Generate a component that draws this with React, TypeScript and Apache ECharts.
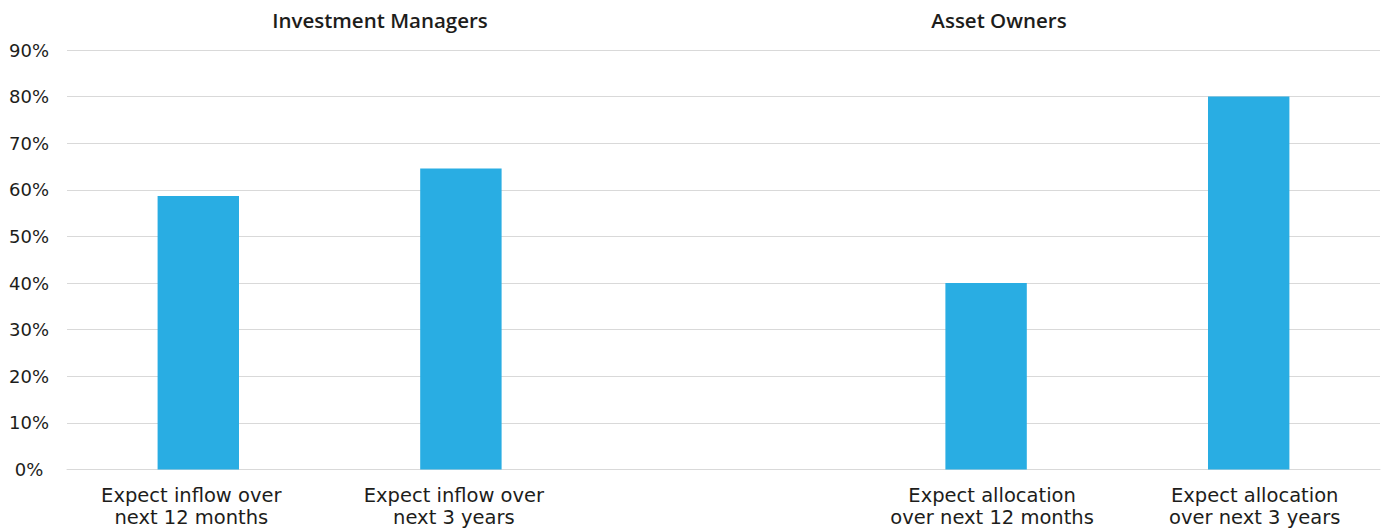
import React, { useEffect, useRef } from "react";
import * as echarts from "echarts";

const categories = [
  "Expect inflow over\nnext 12 months",
  "Expect inflow over\nnext 3 years",
  "",
  "Expect allocation\nover next 12 months",
  "Expect allocation\nover next 3 years",
];
const values: (number | null)[] = [58.7, 64.6, null, 40, 80];
const yTicks = { min: 0, max: 90, interval: 10 };
const groupTitles = ["Investment Managers", "Asset Owners"];

const TEXT = "#1d1d1b";
const GRID = "#d9d9d9";
const BAR = "#29ade3";

// small horizontal nudges of the category labels, as in the reference
const labelPads = [
  [0, 14, 0, 0],
  [0, 14, 0, 0],
  [0, 0, 0, 0],
  [0, 0, 0, 12],
  [0, 0, 0, 12],
];

export default function App() {
  const ref = useRef<HTMLDivElement>(null);
  useEffect(() => {
    if (!ref.current) return;
    const chart = echarts.init(ref.current, undefined, { renderer: "svg" });
    chart.setOption({
      animation: false,
      backgroundColor: "#ffffff",
      grid: { left: 67, right: 5, top: 50, bottom: 59.5, containLabel: false },
      graphic: [
        {
          type: "text",
          x: 380,
          y: 20,
          style: {
            text: groupTitles[0],
            fill: TEXT,
            font: "600 20.5px 'Open Sans'",
            align: "center",
            verticalAlign: "middle",
          },
        },
        {
          type: "text",
          x: 999,
          y: 20,
          style: {
            text: groupTitles[1],
            fill: TEXT,
            font: "600 20.5px 'Open Sans'",
            align: "center",
            verticalAlign: "middle",
          },
        },
      ],
      xAxis: {
        type: "category",
        data: categories.map((c, i) => ({
          value: c,
          textStyle: { padding: labelPads[i] },
        })),
        axisLine: { show: true, lineStyle: { color: GRID, width: 1 } },
        axisTick: { show: false },
        axisLabel: {
          interval: 0,
          color: TEXT,
          fontFamily: "DejaVu Sans",
          fontSize: 19.5,
          lineHeight: 22,
          margin: 15,
        },
      },
      yAxis: {
        type: "value",
        min: yTicks.min,
        max: yTicks.max,
        interval: yTicks.interval,
        axisLine: { show: false },
        axisTick: { show: false },
        splitLine: { lineStyle: { color: GRID, width: 1 } },
        axisLabel: {
          formatter: "{value}%",
          color: TEXT,
          fontFamily: "DejaVu Sans",
          fontSize: 18,
          align: "center",
          margin: 38,
        },
      },
      series: [
        {
          type: "bar",
          data: values,
          barWidth: "31%",
          itemStyle: { color: BAR },
        },
      ],
    });
    return () => chart.dispose();
  }, []);
  return (
    <div
      ref={ref}
      style={{ position: "fixed", left: 0, top: 0, width: 1385, height: 529 }}
    />
  );
}
